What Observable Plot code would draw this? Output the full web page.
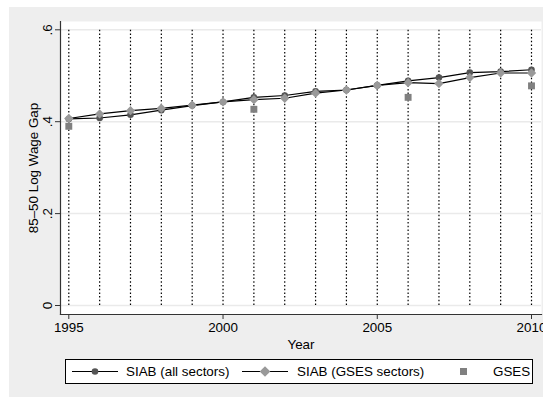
<!DOCTYPE html>
<html><head><meta charset="utf-8">
<script src="https://cdn.jsdelivr.net/npm/d3@7"></script>
<script src="https://cdn.jsdelivr.net/npm/@observablehq/plot@0.6"></script>
<style>
body{margin:0;background:#fff;}
#wrap{position:absolute;left:9px;top:7px;width:534px;height:390px;background:#eeeeee;font-family:"Liberation Sans",Arial,sans-serif;}
#wrap svg{position:absolute;left:0;top:0;}
#legend{position:absolute;left:56px;top:352px;width:466px;height:23px;background:#fff;border:1px solid #000;font-size:13.4px;color:#000;}
#legend .it{position:absolute;top:0;height:23px;line-height:23px;white-space:nowrap;}
#legend svg{position:absolute;top:0;}
</style></head><body><div id="wrap"></div>
<script>
const years = [1995,1996,1997,1998,1999,2000,2001,2002,2003,2004,2005,2006,2007,2008,2009,2010];
const siabAll  = [0.406,0.408,0.415,0.425,0.435,0.443,0.453,0.457,0.466,0.469,0.479,0.489,0.496,0.507,0.509,0.513];
const siabGses = [0.407,0.417,0.424,0.429,0.436,0.443,0.448,0.451,0.462,0.469,0.479,0.485,0.483,0.496,0.506,0.506];
const gsesYears  = [1995,2001,2006,2010];
const gsesValues = [0.390,0.427,0.453,0.478];
const yTicks = [0,0.2,0.4,0.6];
const yTickLabels = ["0",".2",".4",".6"];
const xTicks = [1995,2000,2005,2010];
const seriesNames = ["SIAB (all sectors)","SIAB (GSES sectors)","GSES"];
const yTitle = "85\u201350 Log Wage Gap";
const xTitle = "Year";

const allData = years.map((y,i)=>({year:y,value:siabAll[i]}));
const gsesSecData = years.map((y,i)=>({year:y,value:siabGses[i]}));
const gsesData = gsesYears.map((y,i)=>({year:y,value:gsesValues[i]}));

const font = "'Liberation Sans', Arial, sans-serif";
const plot = Plot.plot({
  width:534, height:350,
  marginLeft:51, marginRight:2, marginTop:14, marginBottom:43,
  x:{domain:[1995,2010], insetLeft:8.3, insetRight:10},
  y:{domain:[0,0.6], insetTop:8.3, insetBottom:9},
  style:{fontFamily:font, fontSize:"13.4px", background:"transparent", color:"#000", overflow:"visible"},
  marks:[
    Plot.frame({fill:"white", stroke:null}),
    Plot.ruleY(yTicks,{stroke:"#eaeaea", strokeWidth:1.5}),
    Plot.ruleX(years,{y1:0,y2:0.6,stroke:"#000",strokeWidth:1.2,strokeDasharray:"1.5,2.2"}),
    Plot.frame({anchor:"left", stroke:"#333", strokeWidth:1.2}),
    Plot.frame({anchor:"bottom", stroke:"#333", strokeWidth:1.2}),
    Plot.axisY({ticks:yTicks, tickFormat:d=>yTickLabels[yTicks.indexOf(d)], tickSize:5, tickPadding:4, tickRotate:-90, stroke:"#333",
      label:yTitle, labelAnchor:"center", labelArrow:"none", labelOffset:32, fontSize:13.4}),
    Plot.axisX({ticks:xTicks, tickFormat:d=>String(d), tickSize:5, tickPadding:3, stroke:"#333",
      label:xTitle, labelAnchor:"center", labelArrow:"none", labelOffset:34, fontSize:13.4}),
    Plot.line(allData,{x:"year",y:"value",stroke:"#000",strokeWidth:1.2}),
    Plot.dot(allData,{x:"year",y:"value",symbol:"circle",r:3.3,fill:"#555",stroke:null}),
    Plot.line(gsesSecData,{x:"year",y:"value",stroke:"#000",strokeWidth:1.2}),
    Plot.dot(gsesSecData,{x:"year",y:"value",symbol:"diamond2",r:4.2,fill:"#999",stroke:null}),
    Plot.dot(gsesData,{x:"year",y:"value",symbol:"square",r:3.9,fill:"#808080",stroke:null})
  ]
});
const wrap = document.getElementById("wrap");
wrap.appendChild(plot);

const legend = document.createElement("div");
legend.id = "legend";
legend.innerHTML = `
<svg style="left:6px" width="46" height="23"><line x1="0" x2="46" y1="11.5" y2="11.5" stroke="#000" stroke-width="1.2"/><circle cx="23" cy="11.5" r="3.3" fill="#555"/></svg>
<div class="it" style="left:60px">${seriesNames[0]}</div>
<svg style="left:176px" width="46" height="23"><line x1="0" x2="46" y1="11.5" y2="11.5" stroke="#000" stroke-width="1.2"/><path d="M23,6.2L28.3,11.5L23,16.8L17.7,11.5Z" fill="#999"/></svg>
<div class="it" style="left:231px">${seriesNames[1]}</div>
<svg style="left:392px" width="12" height="23"><rect x="2" y="8" width="7" height="7" fill="#808080"/></svg>
<div class="it" style="left:427px">${seriesNames[2]}</div>`;
wrap.appendChild(legend);
</script></body></html>
